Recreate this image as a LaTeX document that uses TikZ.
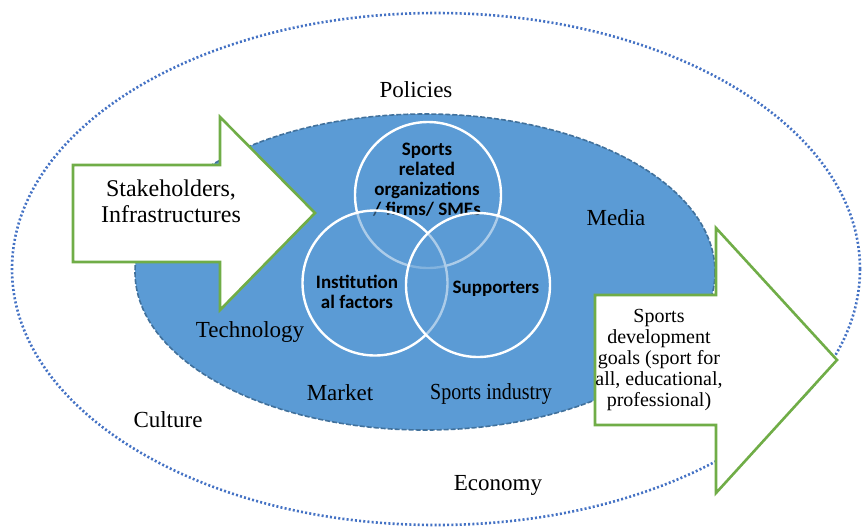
\documentclass[tikz,border=0pt]{standalone}
\usepackage{fontspec}
\setmainfont{Liberation Serif}
\newfontfamily\venn{Carlito}
\definecolor{outerblue}{RGB}{68,114,196}
\definecolor{coreblue}{RGB}{91,155,213}
\definecolor{coreedge}{RGB}{65,113,156}
\definecolor{arrowgreen}{RGB}{112,173,71}
\tikzset{
  outerring/.style={draw=outerblue, line width=1.3pt, dash pattern=on 1pt off 1.1pt},
  corezone/.style={fill=coreblue, draw=coreedge, line width=0.8pt, dash pattern=on 2.5pt off 1pt},
  venncircle/.style={draw=white, line width=1.2pt, fill=coreblue, fill opacity=0.5, draw opacity=1},
  venntext/.style={font=\venn\bfseries\fontsize{9.5}{10}\selectfont, align=center, text=black},
  bigarrow/.style={draw=arrowgreen, fill=white, line width=1.3pt, line join=miter},
  label/.style={font=\fontsize{11.5}{13}\selectfont, text=black, inner sep=0pt},
  arrowtext/.style={align=center, inner sep=0pt, text=black}
}
\begin{document}
\begin{tikzpicture}[x=0.5pt, y=-0.5pt]
\useasboundingbox (0,0) rectangle (863,527);

% outer environment ring
\draw[outerring] (436,269) ellipse [x radius=424, y radius=256];

% inner core of the system
\draw[corezone] (425,272) ellipse [x radius=290, y radius=158];

% Venn circles of the core actors
\path[venncircle] (428,195) circle [radius=73];
\node[venntext] (org) at (427,180) {Sports\\related\\organizations\\/ firms/ SMEs};
\path[venncircle] (375,283) circle [radius=72.5];
\node[venntext] (inst) at (357,292) {Institution\\al factors};
\path[venncircle] (478,285) circle [radius=72];
\node[venntext] (supp) at (496,289) {Supporters};

% input arrow
\draw[bigarrow] (73,165) -- (220,165) -- (220,117) -- (315,213) -- (220,310) -- (220,262) -- (73,262) -- cycle;
\node[arrowtext, font=\fontsize{12}{13}\selectfont] (stake) at (171,201) {Stakeholders,\\Infrastructures};

% output arrow
\draw[bigarrow] (595,295) -- (716,295) -- (716,228) -- (837,360) -- (716,493) -- (716,425) -- (595,425) -- cycle;
\node[arrowtext, font=\fontsize{10}{10.5}\selectfont] (goals) at (659,360) {Sports\\development\\goals (sport for\\all, educational,\\professional)};

% context factors
\node[label] (pol) at (416,90) {Policies};
\node[label] (med) at (616,218) {Media};
\node[label] (tech) at (250,332) {Technology};
\node[label] (mkt) at (340,393) {Market};
\node[label, font=\fontsize{11.5}{13}\selectfont\addfontfeatures{FakeStretch=0.87}] (ind) at (491,394) {Sports industry};
\node[label] (cult) at (168,420) {Culture};
\node[label] (eco) at (498,485) {Economy};
\end{tikzpicture}
\end{document}
